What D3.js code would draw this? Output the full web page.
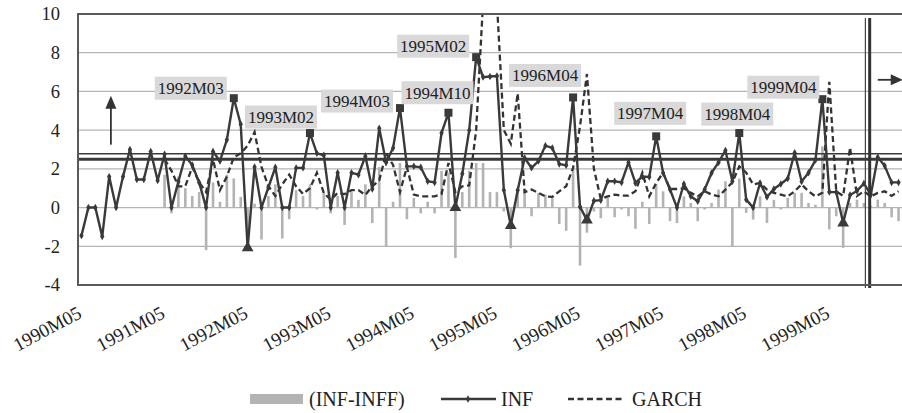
<!DOCTYPE html>
<html>
<head>
<meta charset="utf-8">
<script src="https://cdn.jsdelivr.net/npm/d3@7"></script>
<style>
  body { margin: 0; background: #fff; }
  svg { display: block; }
  text { font-family: "Liberation Serif", "Times New Roman", serif; fill: #222; }
</style>
</head>
<body>
<svg id="chart" width="902" height="413"></svg>
<script>
// monthly observations, 1990M05 .. 2000M03
const startYear = 1990, startMonth = 5, nMonths = 119;
const months = d3.range(nMonths).map(i => {
    const m = startMonth - 1 + i;
    return `${startYear + Math.floor(m / 12)}M${String(m % 12 + 1).padStart(2, "0")}`;
});
const tickMonths = months.filter(m => m.endsWith("M05"));

const yTicks = [-4, -2, 0, 2, 4, 6, 8, 10];

// INF
const inf = [
    -1.45, 0, 0, -1.5, 1.6, 0, 1.6, 3.0, 1.45, 1.45, 2.9, 1.4,
    2.75, 0, 1.35, 2.65, 2.2, 1.3, 0, 2.9, 2.4, 3.5, 5.65, 4.3,
    -2.08, 2.1, 0, 1.05, 2.08, 0, 0, 2.05, 2.05, 3.85, 2.8, 2.7,
    0, 1.8, 0, 1.8, 1.7, 2.65, 0.96, 4.1, 2.33, 3.08, 5.14, 2.13,
    2.13, 2.08, 1.36, 1.3, 3.85, 4.9, 0, 1.75, 4.0, 7.77, 6.74, 6.77,
    6.8, 0.9, -0.93, 0.9, 2.56, 2.05, 2.4, 3.2, 3.08, 2.25, 2.18, 5.69,
    0.04, -0.65, 0.35, 0.38, 1.36, 1.36, 1.3, 2.33, 1.27, 1.6, 1.58, 3.68,
    1.79, 0.93, 0, 1.22, 0.58, 0.33, 0.93, 1.79, 2.33, 2.95, 1.36, 3.85,
    0.41, 0, 1.27, 0.55, 0.96, 1.22, 1.5, 2.83, 1.35, 1.8, 2.45, 5.6,
    0.8, 0.8, -0.8, 0.65, 0.86, 1.25, 0.67, 2.6, 2.16, 1.3, 1.3
];

// GARCH conditional variance (starts 1991M05)
const garch = [
    null, null, null, null, null, null, null, null, null, null, null, null,
    2.5, 1.9, 1.1, 1.1, 2.1, 1.3, 0.8, 2.5, 0.9, 1.6, 2.6, 2.8,
    3.2, 3.9, 2.1, 1.1, 0.6, 1.2, 1.7, 1.1, 0.7, 1.0, 1.8, 0.76,
    0.4, 0.76, 0.7, 0.9, 0.9, 0.65, 1.1, 1.4, 2.8, 2.2, 0.8, 2.1,
    0.67, 0.58, 0.58, 0.58, 0.7, 2.3, 0.8, 1.1, 1.15, 4.0, 10.6, 14.0,
    10.6, 4.0, 3.3, 5.9, 0.8, 0.93, 0.76, 0.58, 0.55, 0.84, 1.1, 2.05,
    4.2, 6.9, 2.0, 0.45, 0.58, 0.67, 0.62, 0.62, 0.84, 1.8, 0.58, 1.27,
    1.8, 0.96, 0.96, 1.0, 0.76, 0.58, 0.84, 0.67, 0.58, 0.93, 1.3, 2.13,
    1.8, 1.2, 1.27, 0.93, 0.76, 0.67, 0.58, 0.84, 1.2, 0.84, 0.58, 0.76,
    6.5, 0.84, 0.6, 3.1, 0.6, 0.84, 0.58, 0.76, 0.84, 0.6, 0.84
];

// (INF-INFF)
const infDiff = [
    null, null, null, null, null, null, null, null, null, null, null, null,
    1.7, -0.3, 1.6, 1.0, 0.6, 0.8, -2.2, 1.3, 0.3, 1.7, 1.5, 0.55,
    -2.0, 0.2, -1.65, 0.6, 1.2, -1.6, -0.6, 0.9, 0.6, 1.2, -0.1, 0.8,
    -0.3, 0.6, -0.9, 0.8, 0.4, 1.2, -0.8, 2.1, -2.0, 0.3, 2.3, -0.6,
    0.5, -0.3, 0.3, -0.3, 1.9, 1.8, -2.6, 0.8, 1.9, 2.3, 2.3, 0.8,
    0.8, -0.2, -2.1, 0.8, 1.0, -0.45, 0.76, 0.67, 0.5, -0.85, -1.2, 2.0,
    -3.0, -1.3, -0.2, -0.55, 0.5, -0.5, -0.1, -0.45, -1.1, 0.3, -0.85, 1.2,
    0.84, -0.7, -0.8, 0.58, 0.24, -0.7, -0.1, 0.24, 0.93, 1.36, -2.0, 1.5,
    -0.27, -0.62, 0.58, -0.8, 0.4, -0.1, 0.5, 0.76, 0.76, 0.24, 0.15, 3.16,
    -1.13, -0.45, -2.08, 0.24, 0.41, 0.24, 0.1, 0.41, 0.24, -0.5, -0.7
];

// highlighted peaks (labelled) and troughs
const peakMonths = ["1992M03", "1993M02", "1994M03", "1994M10", "1995M02", "1996M04", "1997M04", "1998M04", "1999M04"];
const troughMonths = ["1992M05", "1994M11", "1995M07", "1996M06", "1999M07"];

// reference levels
const refLevels = [2.78, 2.5];
const breakMonth = "1999M11";

// label box offsets from the peak point (layout only)
const labelOffsets = [[-43, -10], [-29, -16], [-43, -7], [-11, -20], [-43, -11], [-28, -22], [-6, -23], [-2, -19], [-39, -12]];

const svg = d3.select("#chart");
const margin = { left: 78, top: 14, right: 0, bottom: 128 };
const width = 902 - margin.left - margin.right;
const height = 413 - margin.top - margin.bottom;

const x = d3.scaleBand().domain(months).range([margin.left, margin.left + width]).padding(0);
const cx = m => x(m) + x.bandwidth() / 2;
const y = d3.scaleLinear().domain([-4, 10]).range([margin.top + height, margin.top]);

svg.append("defs").append("clipPath").attr("id", "plot-clip")
    .append("rect")
    .attr("x", margin.left).attr("y", margin.top)
    .attr("width", width).attr("height", height);

// gridlines
svg.append("g")
    .selectAll("line")
    .data(yTicks.filter(t => t > -4 && t < 10))
    .enter().append("line")
    .attr("x1", margin.left).attr("x2", margin.left + width)
    .attr("y1", d => y(d)).attr("y2", d => y(d))
    .attr("stroke", "#b4b4b4").attr("stroke-width", 1.2);

// y labels
svg.append("g")
    .selectAll("text")
    .data(yTicks)
    .enter().append("text")
    .attr("x", 60)
    .attr("y", d => y(d))
    .attr("dy", "0.35em")
    .attr("text-anchor", "end")
    .attr("font-size", "18.5px")
    .text(d => d);

// x labels, rotated
svg.append("g")
    .selectAll("text")
    .data(tickMonths)
    .enter().append("text")
    .attr("transform", d => `translate(${cx(d) + 1.5},${margin.top + height + 32}) rotate(-28)`)
    .attr("text-anchor", "end")
    .attr("font-size", "19px")
    .text(d => d);

const plot = svg.append("g").attr("clip-path", "url(#plot-clip)");

// bars (INF-INFF)
plot.append("g")
    .selectAll("rect")
    .data(months.map((m, i) => ({ m, v: infDiff[i] })).filter(d => d.v !== null))
    .enter().append("rect")
    .attr("x", d => cx(d.m) - 1.3)
    .attr("width", 2.6)
    .attr("y", d => y(Math.max(0, d.v)))
    .attr("height", d => Math.abs(y(d.v) - y(0)))
    .attr("fill", "#b3b3b3");

// reference lines
plot.append("line")
    .attr("x1", margin.left).attr("x2", margin.left + width)
    .attr("y1", y(refLevels[0])).attr("y2", y(refLevels[0]))
    .attr("stroke", "#3a3a3a").attr("stroke-width", 1.6);
plot.append("line")
    .attr("x1", margin.left).attr("x2", margin.left + width)
    .attr("y1", y(refLevels[1])).attr("y2", y(refLevels[1]))
    .attr("stroke", "#3a3a3a").attr("stroke-width", 3);

// GARCH dashed
const garchLine = d3.line()
    .defined(d => d.v !== null)
    .x(d => cx(d.m))
    .y(d => y(d.v));
plot.append("path")
    .datum(months.map((m, i) => ({ m, v: garch[i] })))
    .attr("d", garchLine)
    .attr("fill", "none")
    .attr("stroke", "#333")
    .attr("stroke-width", 2.3)
    .attr("stroke-dasharray", "6,3.5");

// INF line
const infData = months.map((m, i) => ({ m, v: inf[i] }));
plot.append("path")
    .datum(infData)
    .attr("d", d3.line().x(d => cx(d.m)).y(d => y(d.v)))
    .attr("fill", "none")
    .attr("stroke", "#3a3a3a")
    .attr("stroke-width", 2.4);

// small diamond markers
plot.append("g")
    .selectAll("path")
    .data(infData.filter(d => !peakMonths.includes(d.m) && !troughMonths.includes(d.m)))
    .enter().append("path")
    .attr("transform", d => `translate(${cx(d.m)},${y(d.v)})`)
    .attr("d", d3.symbol().type(d3.symbolDiamond).size(16))
    .attr("fill", "#3a3a3a");

// square markers on peaks
plot.append("g")
    .selectAll("rect")
    .data(infData.filter(d => peakMonths.includes(d.m)))
    .enter().append("rect")
    .attr("x", d => cx(d.m) - 4)
    .attr("y", d => y(d.v) - 4)
    .attr("width", 8).attr("height", 8)
    .attr("fill", "#3a3a3a");

// triangles on troughs
plot.append("g")
    .selectAll("path")
    .data(infData.filter(d => troughMonths.includes(d.m)))
    .enter().append("path")
    .attr("transform", d => `translate(${cx(d.m)},${y(d.v)})`)
    .attr("d", d3.symbol().type(d3.symbolTriangle).size(60))
    .attr("fill", "#3a3a3a");

// break line
const bx = x(breakMonth);
svg.append("line")
    .attr("x1", bx - 2).attr("x2", bx - 2)
    .attr("y1", margin.top + 4).attr("y2", margin.top + height + 3)
    .attr("stroke", "#444").attr("stroke-width", 1.2);
svg.append("line")
    .attr("x1", bx + 2.3).attr("x2", bx + 2.3)
    .attr("y1", margin.top + 4).attr("y2", margin.top + height + 3)
    .attr("stroke", "#333").attr("stroke-width", 3);

// frame
svg.append("path")
    .attr("d", `M${margin.left + width},${margin.top}H${margin.left}V${margin.top + height}H${margin.left + width}`)
    .attr("fill", "none")
    .attr("stroke", "#5a5a5a")
    .attr("stroke-width", 2);

// peak labels
const labels = svg.append("g");
peakMonths.forEach((m, k) => {
    const v = inf[months.indexOf(m)];
    const px = cx(m) + labelOffsets[k][0];
    const py = y(v) + labelOffsets[k][1];
    labels.append("rect")
        .attr("x", px - 36).attr("y", py - 11.5)
        .attr("width", 72).attr("height", 23)
        .attr("fill", "#d9d9d9");
    labels.append("text")
        .attr("x", px).attr("y", py)
        .attr("dy", "0.35em")
        .attr("text-anchor", "middle")
        .attr("font-size", "17px")
        .text(m);
});

// arrows
const arrow = svg.append("g").attr("fill", "#333").attr("stroke", "#333");
const ax = x(months[4]) + x.bandwidth() * 0.75;
arrow.append("line")
    .attr("x1", ax).attr("x2", ax)
    .attr("y1", y(3.25)).attr("y2", y(5.2))
    .attr("stroke-width", 1.8);
arrow.append("path")
    .attr("d", `M${ax},${y(5.78)}L${ax - 5.5},${y(5.1)}L${ax + 5.5},${y(5.1)}Z`)
    .attr("stroke", "none");
const ry = y(6.6);
const rx0 = cx(months[115]);
arrow.append("line")
    .attr("x1", rx0).attr("x2", rx0 + 16)
    .attr("y1", ry).attr("y2", ry)
    .attr("stroke-width", 1.8);
arrow.append("path")
    .attr("d", `M${rx0 + 25},${ry}L${rx0 + 13},${ry - 5.5}L${rx0 + 13},${ry + 5.5}Z`)
    .attr("stroke", "none");

// legend
const lg = svg.append("g").attr("transform", "translate(0,399)");
lg.append("rect").attr("x", 250).attr("y", -5).attr("width", 53).attr("height", 10).attr("fill", "#b3b3b3");
lg.append("text").attr("x", 309).attr("dy", "0.35em").attr("font-size", "20px").text("(INF-INFF)");
lg.append("line").attr("x1", 441).attr("x2", 496).attr("stroke", "#3a3a3a").attr("stroke-width", 2.4);
lg.append("path").attr("transform", "translate(468,0)").attr("d", d3.symbol().type(d3.symbolDiamond).size(16)).attr("fill", "#3a3a3a");
lg.append("text").attr("x", 501).attr("dy", "0.35em").attr("font-size", "20px").text("INF");
lg.append("line").attr("x1", 568).attr("x2", 624).attr("stroke", "#333").attr("stroke-width", 2.3).attr("stroke-dasharray", "6,3.5");
lg.append("text").attr("x", 632).attr("dy", "0.35em").attr("font-size", "20px").text("GARCH");
</script>
</body>
</html>
